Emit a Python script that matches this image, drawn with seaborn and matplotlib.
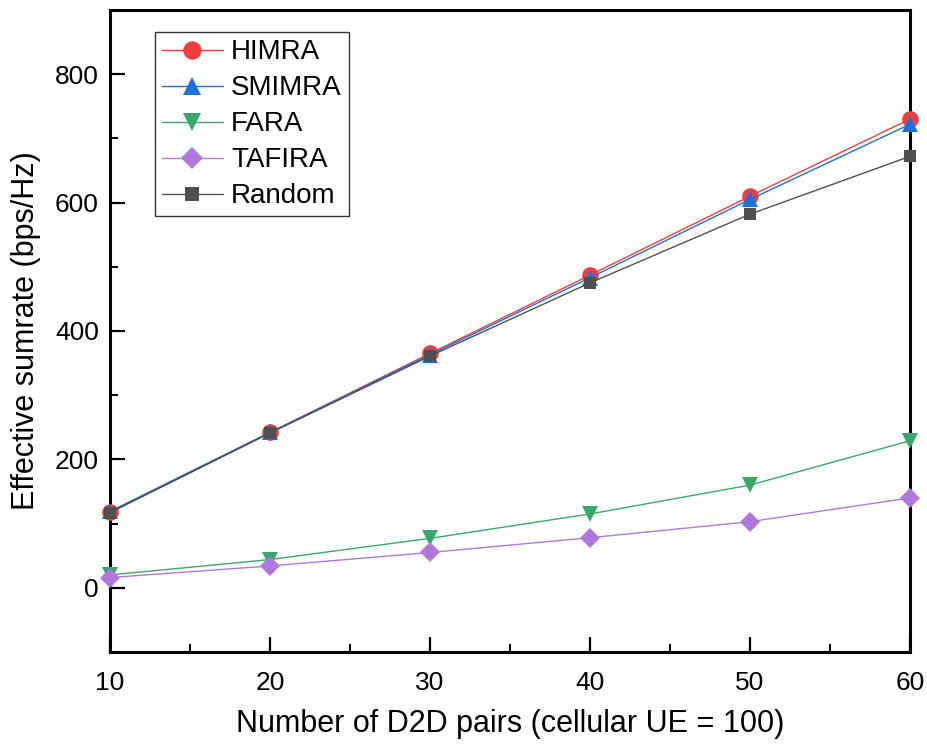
import numpy as np
import pandas as pd
import matplotlib
matplotlib.use("Agg")
import matplotlib.pyplot as plt
from matplotlib.ticker import MultipleLocator
import seaborn as sns

pairs = [10, 20, 30, 40, 50, 60]
himra = [118, 242, 365, 487, 610, 730]
smimra = [119, 242, 363, 483, 605, 722]
fara = [20, 44, 77, 115, 160, 229]
tafira = [16, 34, 55, 78, 103, 140]
random_ = [117, 241, 361, 475, 582, 672]

series_names = ["HIMRA", "SMIMRA", "FARA", "TAFIRA", "Random"]
series_vals = [himra, smimra, fara, tafira, random_]
colors = ["#EF3E3E", "#1E6FE0", "#38A86B", "#AF78DD", "#4F4F4F"]
markers = ["o", "^", "v", "D", "s"]
msizes = [12, 12, 12, 10, 9]

sns.set_theme(style="ticks")
plt.rcParams["font.family"] = ["Liberation Sans", "DejaVu Sans"]
plt.rcParams["text.color"] = "black"
plt.rcParams["axes.labelcolor"] = "black"
plt.rcParams["xtick.color"] = "black"
plt.rcParams["ytick.color"] = "black"

fig = plt.figure(figsize=(9.28, 7.47), dpi=100)
ax = fig.add_axes([110/928, 1-652/747, 800/928, 642/747])

for name, vals, c, m, ms in zip(series_names, series_vals, colors, markers, msizes):
    df = pd.DataFrame({"x": pairs, "y": vals})
    sns.lineplot(data=df, x="x", y="y", ax=ax, color=c, marker=m, markersize=ms,
                 markeredgewidth=0, linewidth=1.0, label=name, clip_on=False, zorder=3)

ax.set_xlim(10, 60)
ax.set_ylim(-100, 900)
ax.xaxis.set_major_locator(MultipleLocator(10))
ax.xaxis.set_minor_locator(MultipleLocator(5))
ax.yaxis.set_major_locator(MultipleLocator(200))
ax.yaxis.set_minor_locator(MultipleLocator(100))
ax.tick_params(axis="both", which="major", direction="in", length=11, width=1.6,
               labelsize=19, colors="black", labelcolor="black", pad=8)
ax.tick_params(axis="both", which="minor", direction="in", length=6, width=1.4, colors="black")
ax.tick_params(axis="x", which="major", pad=14)
for s in ax.spines.values():
    s.set_linewidth(2.2)
    s.set_color("black")
    s.set_visible(True)

ax.set_xlabel("Number of D2D pairs (cellular UE = 100)", fontsize=22, labelpad=10, color="black")
ax.set_ylabel("Effective sumrate (bps/Hz)", fontsize=22, labelpad=10, color="black")

leg = ax.legend(loc="upper left", bbox_to_anchor=(0.056, 0.965), fontsize=20,
                frameon=True, fancybox=False, edgecolor="black", handlelength=2.2,
                handletextpad=0.3, labelspacing=0.36, borderpad=0.25, borderaxespad=0,
                markerscale=1.1)
leg.get_frame().set_linewidth(1.0)
for t in leg.get_texts():
    t.set_color("black")

fig.savefig("out.png", dpi=100, facecolor="white")
